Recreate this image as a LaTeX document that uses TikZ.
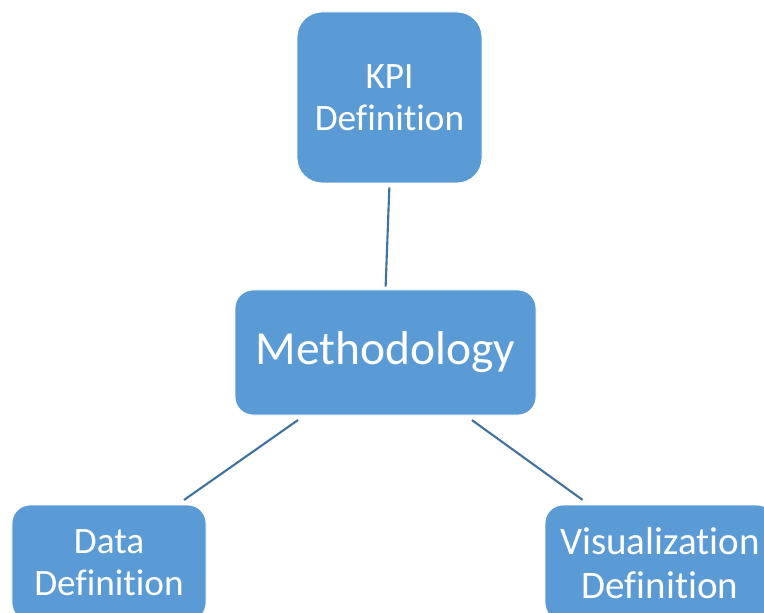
\documentclass[tikz,border=0pt]{standalone}
\usepackage{fontspec}
\setmainfont{Carlito}[Ligatures=NoCommon,RawFeature={-liga;-clig;-calt;-dlig}]
\usepackage{xcolor}
\definecolor{boxblue}{HTML}{5B9BD5}
\definecolor{linkblue}{HTML}{41719C}

\begin{document}
\begin{tikzpicture}
[box/.style={fill=boxblue,draw=white,line width=0.5pt,text=white,align=center,
	font=\fontsize{21.2}{23.8}\selectfont,inner sep=0pt},
 link/.style={draw=linkblue,line width=1.2pt,shorten <=0.16cm,shorten >=0.16cm}]

	\useasboundingbox (0,0) rectangle (15.28,12.24);
	\clip (0,0) rectangle (15.28,12.24);
	%\draw[gray,step=0.5] (0,0) grid (15.28,12.24);

	\node[box,rounded corners=0.5cm,minimum width=3.7cm,minimum height=3.42cm] (kpi) at (7.79,10.29)
	{KPI\\Definition};
	\node[box,rounded corners=0.36cm,minimum width=6.02cm,minimum height=2.5cm,
		font=\fontsize{27}{32}\selectfont] (meth) at (7.71,5.19)
	{Methodology};
	\node[box,rounded corners=0.36cm,minimum width=3.88cm,minimum height=2.32cm] (data) at (2.18,0.98)
	{Data\\Definition};
	\node[box,rounded corners=0.36cm,minimum width=4.6cm,minimum height=2.32cm,
		font=\fontsize{22.2}{25}\selectfont] (viz) at (13.2,0.98)
	{Visualization\\Definition};

	\draw[link,shorten <=0.08cm,shorten >=0.06cm] (kpi.south) -- (meth.north);
	\draw[link] ([xshift=1.4cm]meth.south west) -- ([xshift=-0.58cm]data.north east);
	\draw[link] ([xshift=-1.42cm]meth.south east) -- ([xshift=0.89cm]viz.north west);
\end{tikzpicture}
\end{document}
